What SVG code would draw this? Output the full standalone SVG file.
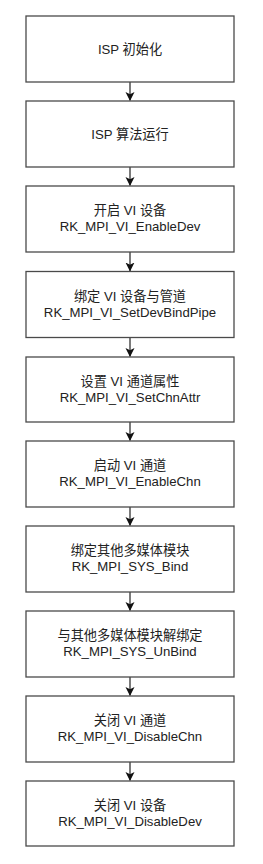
<svg xmlns="http://www.w3.org/2000/svg" width="263" height="864" viewBox="0 0 263 864">
<defs>
<style>
.box{fill:#fff;stroke:#4a4a4a;stroke-width:1.3}
.t{font-family:"Liberation Sans","Noto Sans CJK SC",sans-serif;font-size:13.2px;fill:#222;text-anchor:middle}
.c{stroke:#333;stroke-width:1.3;fill:none}
</style>
<marker id="ah" markerWidth="9" markerHeight="10" refX="8.5" refY="4.5" orient="auto" markerUnits="userSpaceOnUse">
<path d="M0,0 L9,4.5 L0,9 L2.2,4.5 Z" fill="#111"/>
</marker>
</defs>
<rect width="263" height="864" fill="#fff"/>
<g id="connectors">
<line class="c" x1="130" y1="82" x2="130" y2="100.5" marker-end="url(#ah)"/>
<line class="c" x1="130" y1="167" x2="130" y2="185.5" marker-end="url(#ah)"/>
<line class="c" x1="130" y1="252" x2="130" y2="271" marker-end="url(#ah)"/>
<line class="c" x1="130" y1="337.5" x2="130" y2="356.5" marker-end="url(#ah)"/>
<line class="c" x1="130" y1="422" x2="130" y2="440.5" marker-end="url(#ah)"/>
<line class="c" x1="130" y1="507" x2="130" y2="525.5" marker-end="url(#ah)"/>
<line class="c" x1="130" y1="592" x2="130" y2="610.5" marker-end="url(#ah)"/>
<line class="c" x1="130" y1="677" x2="130" y2="695.5" marker-end="url(#ah)"/>
<line class="c" x1="130" y1="762" x2="130" y2="780.5" marker-end="url(#ah)"/>
</g>
<g id="n1"><rect class="box" x="26" y="16" width="208" height="66"/><text class="t" x="130" y="54">ISP 初始化</text></g>
<g id="n2"><rect class="box" x="26" y="101" width="208" height="66"/><text class="t" x="130" y="139">ISP 算法运行</text></g>
<g id="n3"><rect class="box" x="26" y="186" width="208" height="66"/><text class="t" x="130" y="215">开启 VI 设备</text><text class="t" x="130" y="231">RK_MPI_VI_EnableDev</text></g>
<g id="n4"><rect class="box" x="26" y="271.5" width="208" height="66"/><text class="t" x="130" y="300.5">绑定 VI 设备与管道</text><text class="t" x="130" y="316.5">RK_MPI_VI_SetDevBindPipe</text></g>
<g id="n5"><rect class="box" x="26" y="357" width="208" height="65"/><text class="t" x="130" y="385.5">设置 VI 通道属性</text><text class="t" x="130" y="401.5">RK_MPI_VI_SetChnAttr</text></g>
<g id="n6"><rect class="box" x="26" y="441" width="208" height="66"/><text class="t" x="130" y="470">启动 VI 通道</text><text class="t" x="130" y="486">RK_MPI_VI_EnableChn</text></g>
<g id="n7"><rect class="box" x="26" y="526" width="208" height="66"/><text class="t" x="130" y="555">绑定其他多媒体模块</text><text class="t" x="130" y="571">RK_MPI_SYS_Bind</text></g>
<g id="n8"><rect class="box" x="26" y="611" width="208" height="66"/><text class="t" x="130" y="640">与其他多媒体模块解绑定</text><text class="t" x="130" y="656">RK_MPI_SYS_UnBind</text></g>
<g id="n9"><rect class="box" x="26" y="696" width="208" height="66"/><text class="t" x="130" y="725">关闭 VI 通道</text><text class="t" x="130" y="741">RK_MPI_VI_DisableChn</text></g>
<g id="n10"><rect class="box" x="26" y="781" width="208" height="65"/><text class="t" x="130" y="810">关闭 VI 设备</text><text class="t" x="130" y="826">RK_MPI_VI_DisableDev</text></g>
</svg>
